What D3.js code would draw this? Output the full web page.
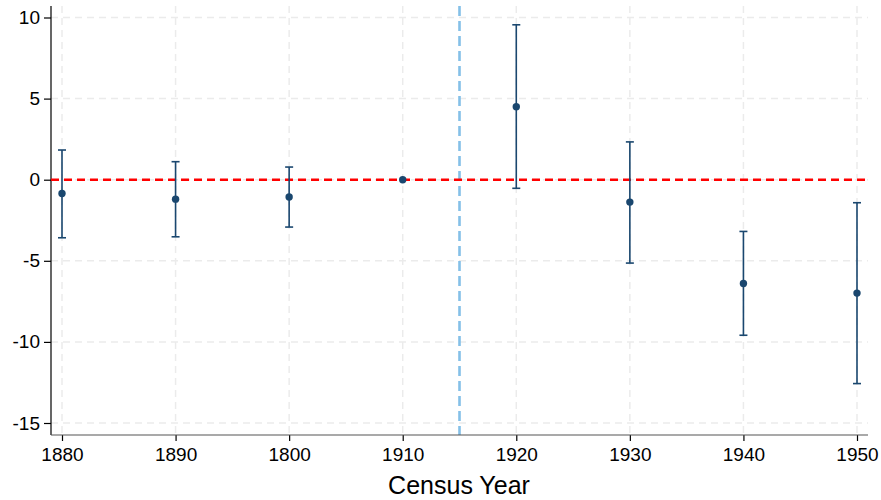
<!DOCTYPE html>
<html><head><meta charset="utf-8">
<script src="https://cdn.jsdelivr.net/npm/d3@7"></script>
<style>body{margin:0;background:#fff}svg{display:block}</style>
</head><body>
<svg id="chart" width="881" height="500"></svg>
<script>
const categories = ["1880","1890","1800","1910","1920","1930","1940","1950"];
const estimates = [-0.85,-1.2,-1.07,0,4.5,-1.38,-6.4,-6.99];
const upper = [1.83,1.11,0.78,0,9.55,2.33,-3.19,-1.42];
const lower = [-3.58,-3.52,-2.92,0,-0.53,-5.14,-9.59,-12.57];
const yTicks = [10,5,0,-5,-10,-15];
const refLinePos = 3.5;
const xTitle = "Census Year";

const svg = d3.select("#chart");
const L = 51, R = 868, T = 6, B = 435;
const x = d3.scaleLinear().domain([0,7]).range([62,857]);
const y = d3.scaleLinear().domain([10,-15]).range([17.5,423]);
const font = "'Liberation Sans', Arial, Helvetica, sans-serif";
const navy = "#1a476f";

// grid
svg.append("g").selectAll("line").data(yTicks).join("line")
  .attr("x1",L).attr("x2",R).attr("y1",d=>y(d)).attr("y2",d=>y(d))
  .attr("stroke","#ebebeb").attr("stroke-width",1.5).attr("stroke-dasharray","7,5");
svg.append("g").selectAll("line").data(categories).join("line")
  .attr("x1",(d,i)=>x(i)).attr("x2",(d,i)=>x(i)).attr("y1",T).attr("y2",B)
  .attr("stroke","#ebebeb").attr("stroke-width",1.5).attr("stroke-dasharray","7,5");

// vertical ref line
svg.append("line").attr("x1",x(refLinePos)).attr("x2",x(refLinePos)).attr("y1",T).attr("y2",B)
  .attr("stroke","#84c0e8").attr("stroke-width",2.6).attr("stroke-dasharray","10,5");

// axes
const yAxis = d3.axisLeft(y).tickValues(yTicks).tickFormat(d=>String(d)).tickSize(7).tickPadding(4);
const gy = svg.append("g").attr("transform",`translate(${L},0)`).call(yAxis);
gy.select(".domain").remove();
gy.append("line").attr("x1",0).attr("x2",0).attr("y1",T).attr("y2",B).attr("stroke","#000").attr("stroke-width",1.2);
gy.selectAll(".tick line").attr("stroke","#000").attr("stroke-width",1.2);
gy.selectAll(".tick text").attr("font-family",font).attr("font-size",19).attr("fill","#000");

const xAxis = d3.axisBottom(x).tickValues(d3.range(categories.length)).tickFormat(i=>categories[i]).tickSize(6).tickPadding(7);
const gx = svg.append("g").attr("transform",`translate(0,${B})`).call(xAxis);
gx.select(".domain").remove();
gx.append("line").attr("x1",L).attr("x2",R).attr("y1",0).attr("y2",0).attr("stroke","#555").attr("stroke-width",1.2);
gx.selectAll(".tick line").attr("stroke","#000").attr("stroke-width",1.2);
gx.selectAll(".tick text").attr("font-family",font).attr("font-size",19).attr("fill","#000");

svg.append("text").attr("x",459).attr("y",494).attr("text-anchor","middle")
  .attr("font-family",font).attr("font-size",25).attr("fill","#000").text(xTitle);

// zero line
svg.append("line").attr("x1",L).attr("x2",R).attr("y1",y(0)).attr("y2",y(0))
  .attr("stroke","#ff0000").attr("stroke-width",2.4).attr("stroke-dasharray","8,5");

// error bars
const eg = svg.append("g");
categories.forEach((c,i)=>{
  if (upper[i]===lower[i]) return;
  eg.append("line").attr("x1",x(i)).attr("x2",x(i)).attr("y1",y(upper[i])).attr("y2",y(lower[i]))
    .attr("stroke",navy).attr("stroke-width",1.6);
  [upper[i],lower[i]].forEach(v=>{
    eg.append("line").attr("x1",x(i)-4).attr("x2",x(i)+4).attr("y1",y(v)).attr("y2",y(v))
      .attr("stroke",navy).attr("stroke-width",1.6);
  });
});
svg.append("g").selectAll("circle").data(estimates).join("circle")
  .attr("cx",(d,i)=>x(i)).attr("cy",d=>y(d)).attr("r",3.7).attr("fill",navy);
</script>
</body></html>
